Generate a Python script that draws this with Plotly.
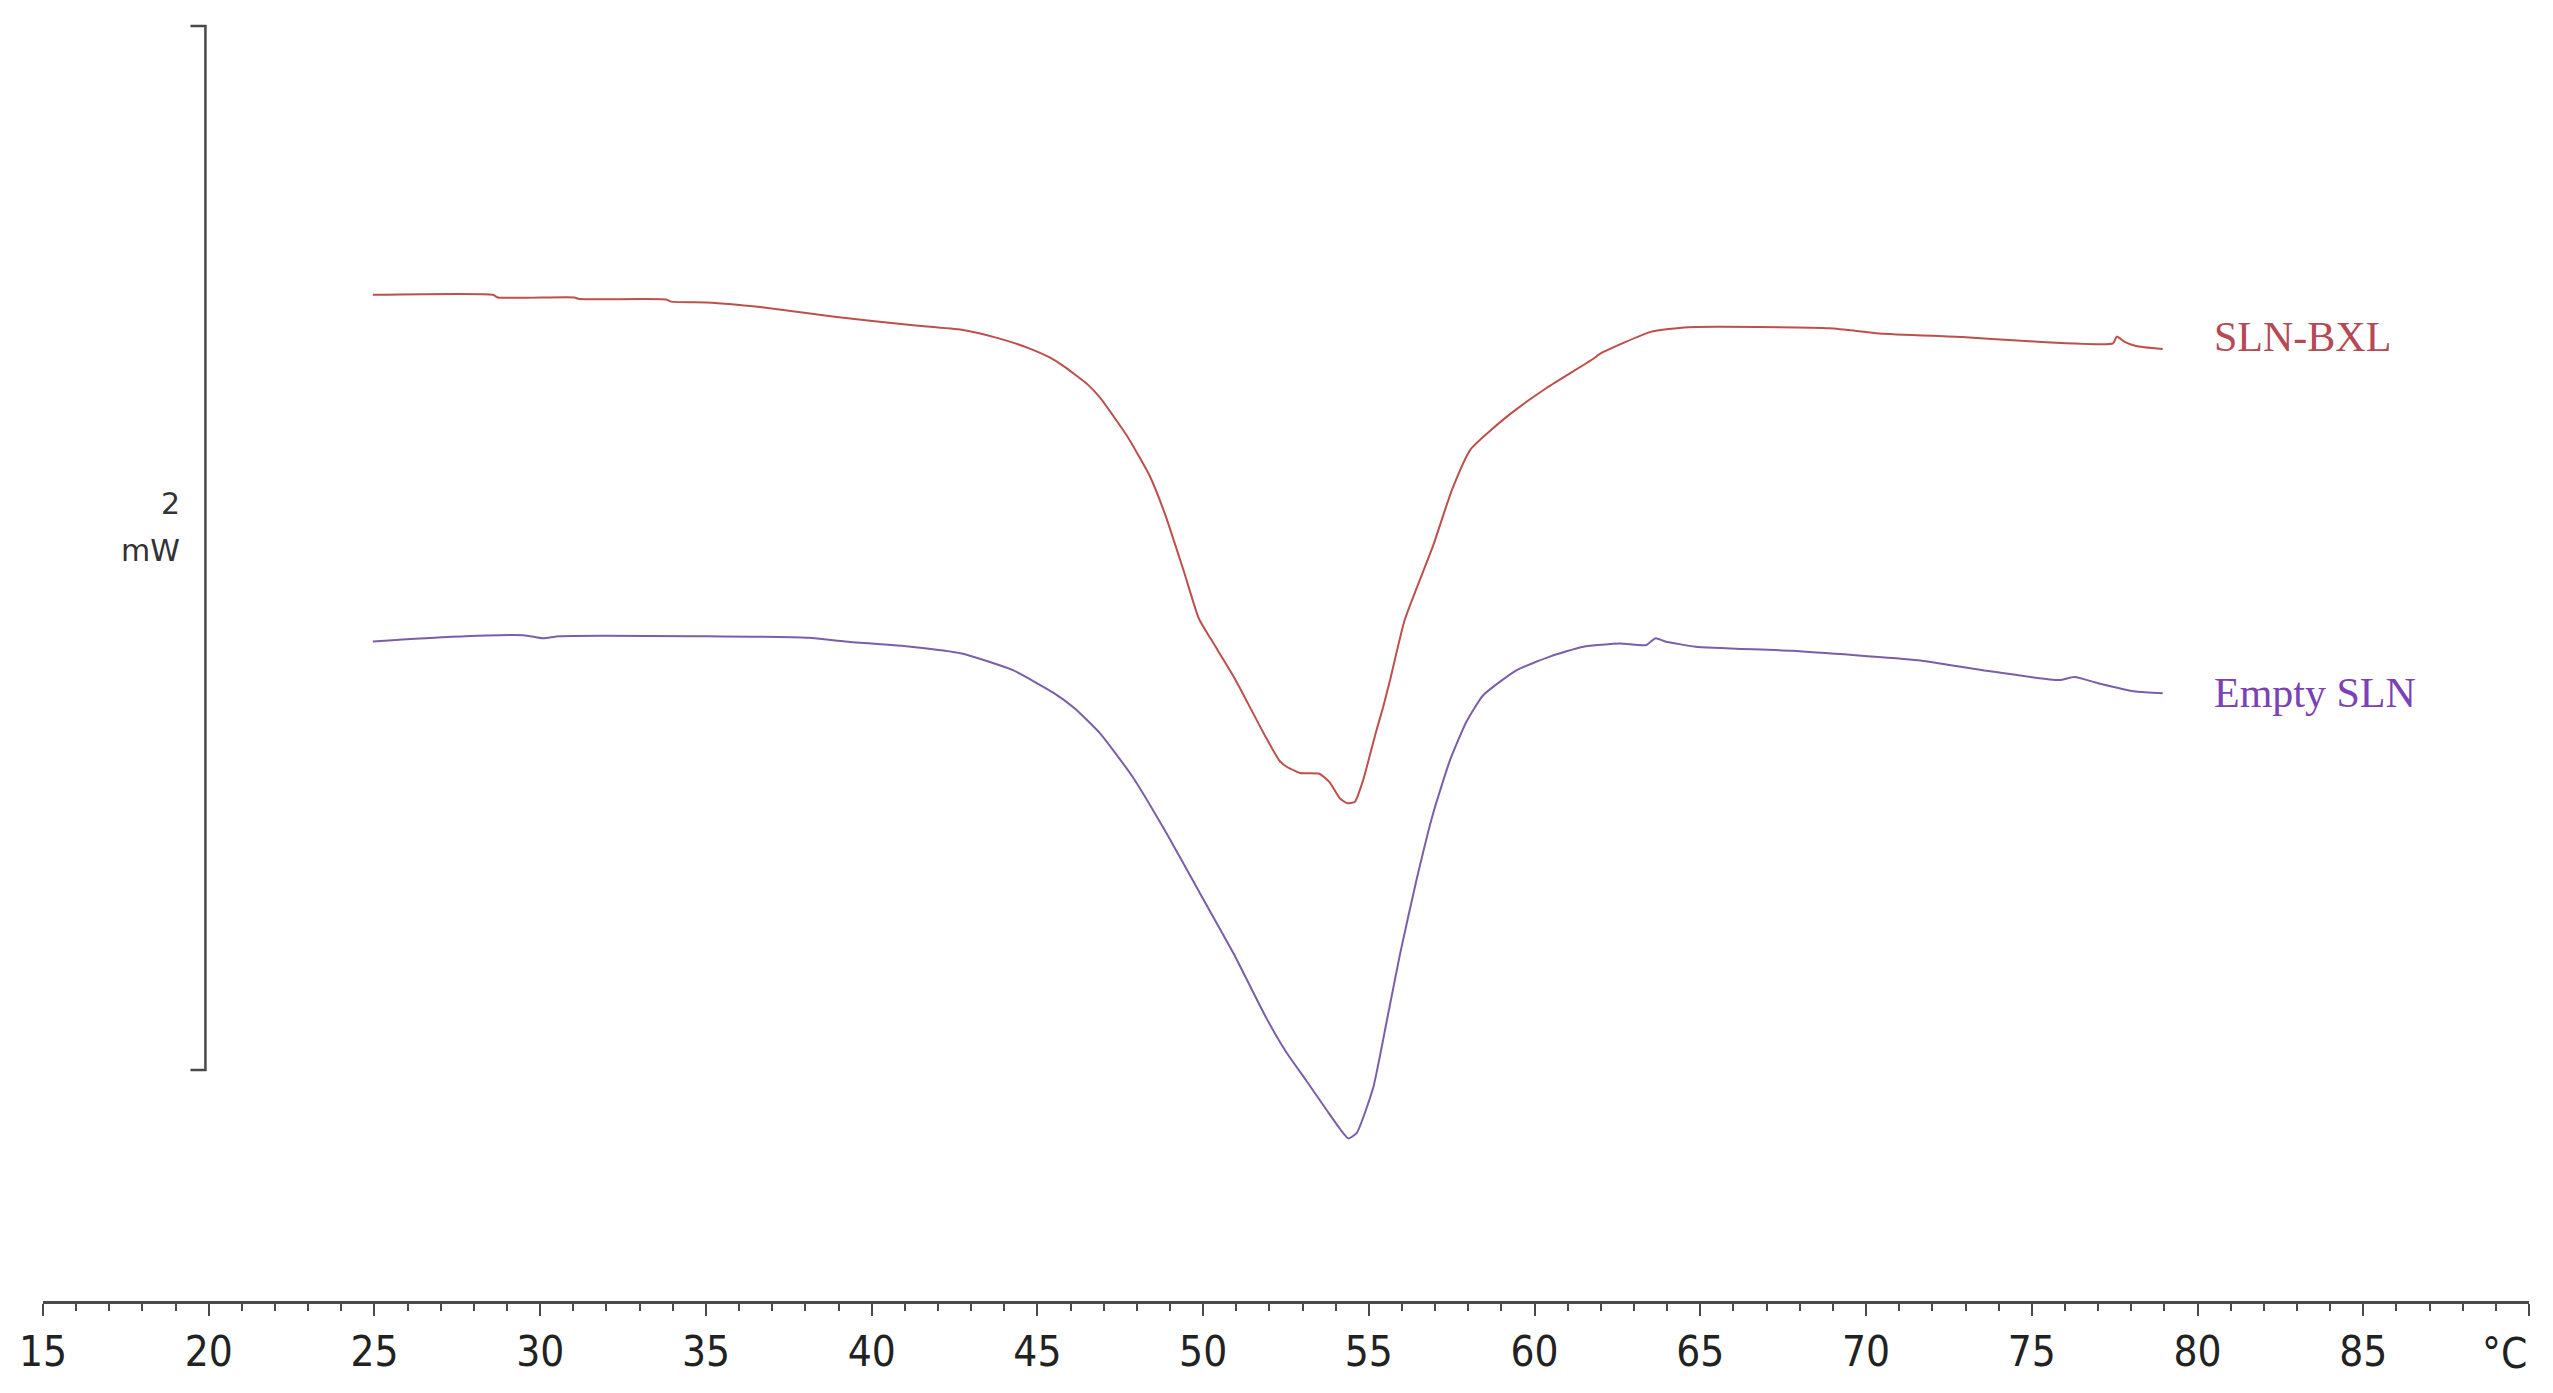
"""DSC thermograms of SLN-BXL and empty SLN (heat flow vs temperature)."""

import plotly.graph_objects as go

# --- data (temperature in degC, heat flow in mW) ---
sln_bxl_temp = [24.95, 28.57, 28.72, 31.03, 31.18, 33.8, 33.95, 35.18, 36.57, 38.88,
                41.18, 42.72, 43.81, 44.73, 45.37, 45.8, 46.52, 46.89, 47.7, 48.39,
                48.85, 49.42, 49.87, 50.23, 50.91, 51.14, 51.87, 52.31, 52.52, 52.77,
                52.92, 53.49, 53.69, 53.83, 54.13, 54.35, 54.58, 54.83, 55.23, 55.43,
                55.64, 56.08, 56.93, 57.51, 58.08, 59.23, 60.37, 61.76, 61.97, 63.5,
                64.63, 68.9, 70.4, 72.9, 74.68, 77.45, 77.56, 77.8, 78.14, 78.95]
sln_bxl_flow = [1.485, 1.485, 1.480, 1.480, 1.477, 1.476, 1.472, 1.470, 1.462, 1.443,
                1.427, 1.418, 1.402, 1.383, 1.365, 1.348, 1.313, 1.288, 1.215, 1.138,
                1.065, 0.955, 0.865, 0.826, 0.755, 0.728, 0.640, 0.592, 0.581, 0.573,
                0.569, 0.568, 0.559, 0.550, 0.520, 0.511, 0.514, 0.556, 0.651, 0.695,
                0.747, 0.862, 1.003, 1.112, 1.190, 1.255, 1.307, 1.362, 1.372, 1.414,
                1.423, 1.421, 1.411, 1.404, 1.397, 1.392, 1.405, 1.395, 1.387, 1.381]

empty_sln_temp = [24.95, 27.33, 29.49, 30.1, 30.56, 35.03, 38.1, 39.2, 41.18, 42.72,
                  44.26, 45.5, 46.12, 46.89, 47.89, 48.9, 49.9, 50.91, 51.92, 52.52,
                  53.12, 53.73, 54.13, 54.38, 54.63, 55.13, 55.54, 55.94, 56.44, 56.94,
                  57.45, 57.95, 58.45, 59.46, 60.46, 61.47, 62.58, 63.36, 63.65, 63.94,
                  64.86, 67.75, 71.56, 73.52, 75.82, 76.29, 77.0, 78.14, 78.95]
empty_sln_flow = [0.821, 0.830, 0.833, 0.827, 0.831, 0.831, 0.828, 0.821, 0.811, 0.798,
                  0.766, 0.722, 0.693, 0.645, 0.560, 0.453, 0.339, 0.224, 0.098, 0.033,
                  -0.021, -0.077, -0.113, -0.131, -0.121, -0.034, 0.094, 0.222, 0.365, 0.492,
                  0.594, 0.668, 0.718, 0.766, 0.792, 0.811, 0.817, 0.814, 0.827, 0.821,
                  0.811, 0.803, 0.785, 0.766, 0.747, 0.753, 0.741, 0.725, 0.722]

tick_values = [15, 20, 25, 30, 35, 40, 45, 50, 55, 60, 65, 70, 75, 80, 85, 90]
tick_labels = ["15", "20", "25", "30", "35", "40", "45", "50", "55", "60",
               "65", "70", "75", "80", "85", ""]
x_unit = "°C"

# 2 mW scale bar on the left
scale_bar_x = 19.9
scale_bar_bottom = 0.0
scale_bar_size = 2.0
scale_tick_len = 0.45

series_labels = ["SLN-BXL", "Empty SLN"]
label_x = 80.45
label_y = [1.404, 0.723]

RED = "#bd4f4c"
PURPLE = "#7b5ea8"
AXIS = "#4a4a4a"
TICK_FONT = "Liberation Sans Narrow, DejaVu Sans Condensed, Arial Narrow, sans-serif"
SERIF = "Liberation Serif, Times New Roman, serif"

fig = go.Figure()

fig.add_trace(go.Scatter(
    x=sln_bxl_temp, y=sln_bxl_flow, mode="lines",
    line=dict(color=RED, width=2, shape="spline", smoothing=0.5),
    name=series_labels[0], hoverinfo="x+y",
))
fig.add_trace(go.Scatter(
    x=empty_sln_temp, y=empty_sln_flow, mode="lines",
    line=dict(color=PURPLE, width=2, shape="spline", smoothing=0.5),
    name=series_labels[1], hoverinfo="x+y",
))

# scale bar: vertical line with short end ticks pointing left
bar_top = scale_bar_bottom + scale_bar_size
fig.add_trace(go.Scatter(
    x=[scale_bar_x - scale_tick_len, scale_bar_x, scale_bar_x, scale_bar_x - scale_tick_len],
    y=[bar_top, bar_top, scale_bar_bottom, scale_bar_bottom],
    mode="lines", line=dict(color=AXIS, width=2.5),
    hoverinfo="skip", showlegend=False, cliponaxis=False,
))

bar_mid = (scale_bar_bottom + bar_top) / 2
annotations = [
    dict(x=scale_bar_x - 0.7, y=bar_mid + 0.085,
         text=f"{scale_bar_size:g}", xanchor="right", yanchor="middle",
         showarrow=False, font=dict(family="DejaVu Sans", size=30, color="#333333")),
    dict(x=scale_bar_x - 0.7, y=bar_mid - 0.005,
         text="mW", xanchor="right", yanchor="middle",
         showarrow=False, font=dict(family="DejaVu Sans", size=30, color="#333333")),
    dict(x=tick_values[-1], xref="x", y=0, yref="paper", yshift=-52,
         text=x_unit, xanchor="right", yanchor="middle", showarrow=False,
         font=dict(family=TICK_FONT, size=42, color="#222222")),
]
for name, y, col in zip(series_labels, label_y, ["#b34a55", "#7a42b6"]):
    annotations.append(dict(
        x=label_x, y=y, text=name, xanchor="left", yanchor="middle",
        showarrow=False, font=dict(family=SERIF, size=42, color=col),
    ))

fig.update_layout(
    width=2553, height=1393,
    margin=dict(l=43, r=24, t=20, b=92),
    paper_bgcolor="white", plot_bgcolor="white",
    showlegend=False,
    annotations=annotations,
)

fig.update_xaxes(
    range=[15, 90], showgrid=False, zeroline=False,
    showline=True, linecolor=AXIS, linewidth=3,
    ticks="outside", ticklen=12, tickwidth=2, tickcolor=AXIS,
    tickvals=tick_values, ticktext=tick_labels,
    tickfont=dict(family=TICK_FONT, size=42, color="#222222"),
    minor=dict(dtick=1, tick0=15, ticks="outside", ticklen=7, tickwidth=2, tickcolor=AXIS),
)
fig.update_yaxes(range=[-0.4425, 2.0115], visible=False)

fig.write_html("out.html", config={"displayModeBar": False},
               post_script="document.body.style.margin='0';")
